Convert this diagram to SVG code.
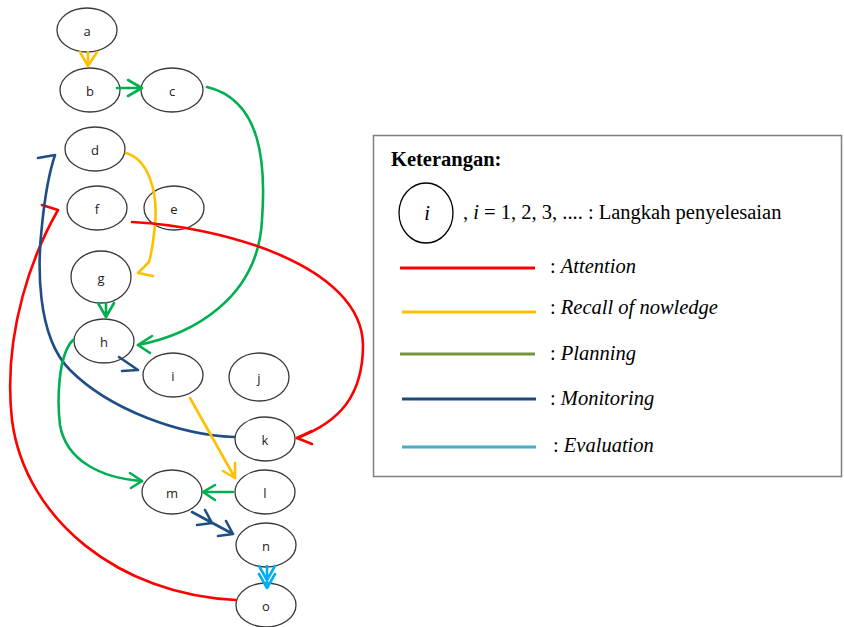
<svg xmlns="http://www.w3.org/2000/svg" width="844" height="627" viewBox="0 0 844 627">
<style>
.node ellipse{fill:#fff;stroke:#3a3a3a;stroke-width:1.3}
.node text{font-family:"Open Sans","Liberation Sans",sans-serif;font-size:13px;fill:#222;text-anchor:middle}
.c{fill:none;stroke-width:2.6;stroke-linecap:round;stroke-linejoin:round}
.red{stroke:#FF0000}.yel{stroke:#FFC000}.grn{stroke:#00B050}.blu{stroke:#1F4E86}.cyn{stroke:#00B0F0}
.lg{stroke-width:3;fill:none}
.serif{font-family:"Liberation Serif","Times New Roman",serif;font-size:20.5px;fill:#000}
.it{font-style:italic}
</style>
<rect width="844" height="627" fill="#fff"/>
<g id="node-a" class="node"><ellipse cx="87" cy="30" rx="30" ry="22"/><text x="87" y="36">a</text></g>
<g id="node-b" class="node"><ellipse cx="90" cy="90" rx="30" ry="22"/><text x="90" y="96">b</text></g>
<g id="node-c" class="node"><ellipse cx="172" cy="90" rx="31" ry="22"/><text x="172" y="96">c</text></g>
<g id="node-d" class="node"><ellipse cx="95" cy="149" rx="30" ry="22"/><text x="95" y="155">d</text></g>
<g id="node-f" class="node"><ellipse cx="97" cy="208" rx="30" ry="22"/><text x="97" y="214">f</text></g>
<g id="node-e" class="node"><ellipse cx="174" cy="208" rx="30" ry="22"/><text x="174" y="214">e</text></g>
<g id="node-g" class="node"><ellipse cx="101" cy="277" rx="30" ry="26"/><text x="101" y="283">g</text></g>
<g id="node-h" class="node"><ellipse cx="104" cy="341" rx="30" ry="22"/><text x="104" y="347">h</text></g>
<g id="node-i" class="node"><ellipse cx="173" cy="375" rx="30" ry="22"/><text x="173" y="381">i</text></g>
<g id="node-j" class="node"><ellipse cx="259" cy="377" rx="30" ry="24"/><text x="259" y="383">j</text></g>
<g id="node-k" class="node"><ellipse cx="265" cy="439" rx="30" ry="22"/><text x="265" y="445">k</text></g>
<g id="node-l" class="node"><ellipse cx="265" cy="492" rx="30" ry="22"/><text x="265" y="498">l</text></g>
<g id="node-m" class="node"><ellipse cx="172" cy="492" rx="30" ry="22"/><text x="172" y="498">m</text></g>
<g id="node-n" class="node"><ellipse cx="266" cy="545" rx="30" ry="22"/><text x="266" y="551">n</text></g>
<g id="node-o" class="node"><ellipse cx="266" cy="605" rx="30" ry="22"/><text x="266" y="611">o</text></g>
<g id="connectors">
  <path class="c yel" d="M88,52 L88,66 M80,52 L88,66 L97,52"/>
  <path class="c grn" d="M117,88 L142,88 M128,80 L142,88 L128,96"/>
  <path class="c grn" d="M207,87 C262,100 266,165 262,220 C258,300 190,335 138,345"/>
  <path class="c grn" d="M152,336 L138,345 L150,353"/>
  <path class="c yel" d="M126,153 C150,160 158,195 155,225 C153,245 151,255 149,262 L138,273 L153,276"/>
  <path class="c red" d="M132,222 C220,226 362,265 363,345 C363,395 340,422 297,438"/>
  <path class="c red" d="M312,431 L297,438 L312,444"/>
  <path class="c red" d="M236,600 C120,595 25,520 12,420 C2,330 35,250 58,210 L42,205"/>
  <path class="c blu" d="M234,437 C180,435 110,410 70,370 C35,335 38,260 42,225 C45,195 50,170 55,155 L38,158"/>
  <path class="c grn" d="M106,303 L106,317 M98,303 L106,317 L114,303"/>
  <path class="c blu" d="M119,357 L138,370 L122,371"/>
  <path class="c grn" d="M73,340 C58,355 57,400 60,425 C66,460 100,478 142,481"/>
  <path class="c grn" d="M130,473 L142,481 L131,488"/>
  <path class="c yel" d="M190,398 L235,478 M223,471 L235,478 L235,463"/>
  <path class="c grn" d="M233,492 L203,492 M215,485 L203,492 L215,500"/>
  <path class="c blu" d="M192,512 L233,534 M205,510 L212,523 L197,525 M226,521 L233,534 L218,536"/>
  <path class="c cyn" d="M267,566 L267,588 M259,566 L267,580 L275,566 M259,574 L267,588 L275,574"/>
</g>
<g id="legend">
  <rect x="373.5" y="135.5" width="468" height="341" fill="#fff" stroke="#7f7f7f" stroke-width="1.5"/>
  <text class="serif" x="391" y="166" font-weight="bold">Keterangan:</text>
  <ellipse cx="426" cy="213" rx="27" ry="30" fill="none" stroke="#000" stroke-width="1.3"/>
  <text class="serif it" x="427" y="220" text-anchor="middle">i</text>
  <text class="serif" x="463" y="219">, <tspan class="it">i</tspan> = 1, 2, 3, .... : Langkah penyelesaian</text>
  <line class="lg" x1="400" y1="268" x2="535" y2="268" stroke="#FF0000"/>
  <line class="lg" x1="402" y1="312" x2="536" y2="312" stroke="#FFC000"/>
  <line class="lg" x1="400" y1="354" x2="535" y2="354" stroke="#77933C"/>
  <line class="lg" x1="402" y1="399" x2="536" y2="399" stroke="#1F497D"/>
  <line class="lg" x1="402" y1="447" x2="536" y2="447" stroke="#4BACC6"/>
  <text class="serif" x="550" y="273">: <tspan class="it">Attention</tspan></text>
  <text class="serif" x="550" y="314">: <tspan class="it">Recall of nowledge</tspan></text>
  <text class="serif" x="550" y="360">: <tspan class="it">Planning</tspan></text>
  <text class="serif" x="550" y="405">: <tspan class="it">Monitoring</tspan></text>
  <text class="serif" x="553" y="452">: <tspan class="it">Evaluation</tspan></text>
</g>
</svg>
